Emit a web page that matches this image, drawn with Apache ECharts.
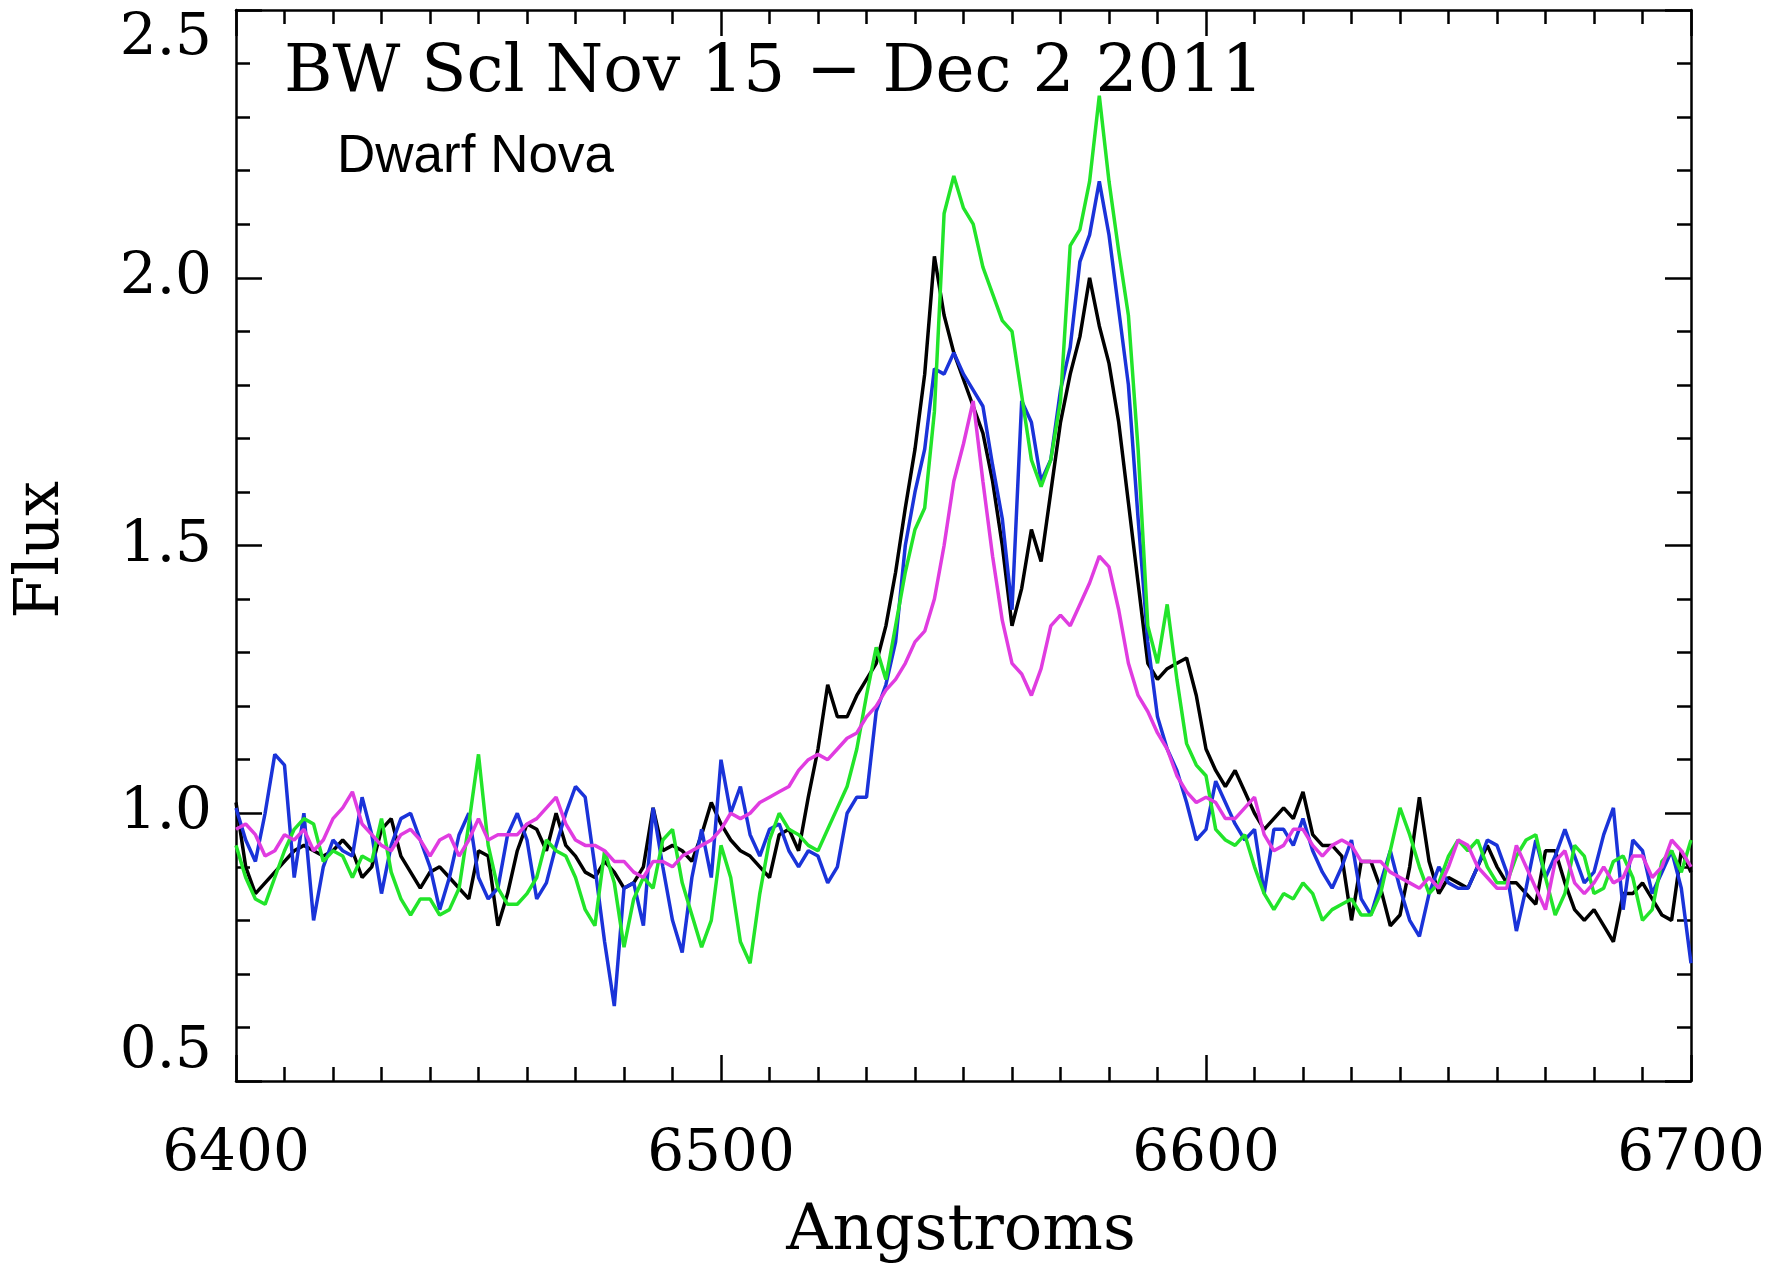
<!DOCTYPE html>
<html><head><meta charset="utf-8">
<script src="https://cdn.jsdelivr.net/npm/echarts@6/dist/echarts.min.js"></script>
<style>html,body{margin:0;padding:0;background:#fff}#c{width:1788px;height:1269px}</style>
</head><body><div id="c"></div>
<script>
// Wavelength grid (Angstroms)
const WAVELENGTH = [
 6400,6402,6404,6406,6408,6410,6412,6414,6416,6418,
 6420,6422,6424,6426,6428,6430,6432,6434,6436,6438,
 6440,6442,6444,6446,6448,6450,6452,6454,6456,6458,
 6460,6462,6464,6466,6468,6470,6472,6474,6476,6478,
 6480,6482,6484,6486,6488,6490,6492,6494,6496,6498,
 6500,6502,6504,6506,6508,6510,6512,6514,6516,6518,
 6520,6522,6524,6526,6528,6530,6532,6534,6536,6538,
 6540,6542,6544,6546,6548,6550,6552,6554,6556,6558,
 6560,6562,6564,6566,6568,6570,6572,6574,6576,6578,
 6580,6582,6584,6586,6588,6590,6592,6594,6596,6598,
 6600,6602,6604,6606,6608,6610,6612,6614,6616,6618,
 6620,6622,6624,6626,6628,6630,6632,6634,6636,6638,
 6640,6642,6644,6646,6648,6650,6652,6654,6656,6658,
 6660,6662,6664,6666,6668,6670,6672,6674,6676,6678,
 6680,6682,6684,6686,6688,6690,6692,6694,6696,6698,
 6700
];
const FLUX_BLACK = [
 1.02,0.90,0.85,0.87,0.89,0.91,0.93,0.94,0.93,0.92,
 0.93,0.95,0.93,0.88,0.90,0.97,0.99,0.92,0.89,0.86,
 0.89,0.90,0.88,0.86,0.84,0.93,0.92,0.79,0.85,0.93,
 0.98,0.97,0.93,1.00,0.94,0.92,0.89,0.88,0.91,0.89,
 0.86,0.87,0.90,1.01,0.93,0.94,0.93,0.91,0.96,1.02,
 0.98,0.95,0.93,0.92,0.90,0.88,0.96,0.97,0.93,1.03,
 1.12,1.24,1.18,1.18,1.22,1.25,1.28,1.35,1.45,1.57,
 1.68,1.82,2.04,1.93,1.86,1.81,1.76,1.71,1.62,1.50,
 1.35,1.42,1.53,1.47,1.60,1.73,1.82,1.89,2.00,1.91,
 1.84,1.73,1.58,1.43,1.28,1.25,1.27,1.28,1.29,1.22,
 1.12,1.08,1.05,1.08,1.04,1.00,0.97,0.99,1.01,0.99,
 1.04,0.96,0.94,0.94,0.92,0.80,0.91,0.91,0.86,0.79,
 0.81,0.90,1.03,0.91,0.85,0.88,0.87,0.86,0.90,0.94,
 0.90,0.87,0.87,0.85,0.83,0.93,0.93,0.87,0.82,0.80,
 0.82,0.79,0.76,0.85,0.85,0.87,0.84,0.81,0.80,0.93,
 0.89
];
const FLUX_BLUE = [
 1.01,0.95,0.91,1.00,1.11,1.09,0.88,1.00,0.80,0.90,
 0.95,0.93,0.92,1.03,0.96,0.85,0.94,0.99,1.00,0.95,
 0.90,0.82,0.88,0.96,1.00,0.88,0.84,0.86,0.96,1.00,
 0.95,0.84,0.87,0.94,1.00,1.05,1.03,0.90,0.76,0.64,
 0.86,0.87,0.79,1.01,0.90,0.80,0.74,0.88,0.97,0.88,
 1.10,1.00,1.05,0.96,0.92,0.97,0.98,0.93,0.90,0.93,
 0.92,0.87,0.90,1.00,1.03,1.03,1.19,1.24,1.32,1.50,
 1.60,1.68,1.83,1.82,1.86,1.82,1.79,1.76,1.65,1.55,
 1.38,1.77,1.73,1.62,1.66,1.79,1.87,2.03,2.08,2.18,
 2.08,1.94,1.80,1.55,1.32,1.18,1.12,1.08,1.02,0.95,
 0.97,1.06,1.02,0.98,0.95,0.97,0.85,0.97,0.97,0.94,
 0.99,0.93,0.89,0.86,0.90,0.95,0.84,0.81,0.87,0.93,
 0.86,0.80,0.77,0.85,0.90,0.87,0.86,0.86,0.90,0.95,
 0.94,0.89,0.78,0.86,0.95,0.88,0.92,0.97,0.92,0.87,
 0.89,0.96,1.01,0.82,0.95,0.93,0.85,0.89,0.93,0.86,
 0.72
];
const FLUX_GREEN = [
 0.94,0.88,0.84,0.83,0.88,0.93,0.97,0.99,0.98,0.91,
 0.93,0.92,0.88,0.92,0.91,0.99,0.89,0.84,0.81,0.84,
 0.84,0.81,0.82,0.86,0.98,1.11,0.94,0.86,0.83,0.83,
 0.85,0.88,0.95,0.93,0.92,0.88,0.82,0.79,0.93,0.87,
 0.75,0.84,0.88,0.86,0.95,0.97,0.87,0.81,0.75,0.80,
 0.94,0.88,0.76,0.72,0.85,0.95,1.00,0.97,0.96,0.94,
 0.93,0.97,1.01,1.05,1.12,1.22,1.31,1.25,1.35,1.45,
 1.53,1.57,1.75,2.12,2.19,2.13,2.10,2.02,1.97,1.92,
 1.90,1.78,1.66,1.61,1.66,1.77,2.06,2.09,2.18,2.34,
 2.18,2.05,1.93,1.68,1.35,1.28,1.39,1.25,1.13,1.09,
 1.07,0.97,0.95,0.94,0.96,0.90,0.85,0.82,0.85,0.84,
 0.87,0.85,0.80,0.82,0.83,0.84,0.81,0.81,0.85,0.93,
 1.01,0.96,0.90,0.85,0.87,0.92,0.95,0.93,0.95,0.90,
 0.87,0.87,0.92,0.95,0.96,0.88,0.81,0.85,0.94,0.92,
 0.85,0.86,0.91,0.92,0.88,0.80,0.82,0.91,0.93,0.89,
 0.95
];
const FLUX_MAGENTA = [
 0.97,0.98,0.96,0.92,0.93,0.96,0.95,0.97,0.93,0.95,
 0.99,1.01,1.04,0.98,0.96,0.94,0.93,0.96,0.97,0.95,
 0.92,0.95,0.96,0.92,0.95,0.99,0.95,0.96,0.96,0.96,
 0.98,0.99,1.01,1.03,0.98,0.95,0.94,0.94,0.93,0.91,
 0.91,0.89,0.88,0.91,0.91,0.90,0.92,0.93,0.94,0.95,
 0.97,1.00,0.99,1.00,1.02,1.03,1.04,1.05,1.08,1.10,
 1.11,1.10,1.12,1.14,1.15,1.18,1.20,1.23,1.25,1.28,
 1.32,1.34,1.40,1.50,1.62,1.69,1.77,1.62,1.48,1.36,
 1.28,1.26,1.22,1.27,1.35,1.37,1.35,1.39,1.43,1.48,
 1.46,1.38,1.28,1.22,1.19,1.15,1.12,1.07,1.04,1.02,
 1.03,1.02,0.99,0.99,1.01,1.03,0.96,0.93,0.94,0.97,
 0.97,0.94,0.92,0.94,0.95,0.94,0.91,0.91,0.91,0.89,
 0.88,0.87,0.86,0.88,0.86,0.90,0.95,0.94,0.90,0.88,
 0.86,0.86,0.94,0.90,0.86,0.82,0.91,0.93,0.87,0.85,
 0.87,0.90,0.87,0.88,0.92,0.92,0.88,0.90,0.95,0.93,
 0.90
];
const X_RANGE = [6400, 6700];
const Y_RANGE = [0.5, 2.5];
const TITLE_TEXT = 'BW Scl Nov 15 \u2212 Dec 2 2011';
const SUBTITLE_TEXT = 'Dwarf Nova';
const X_NAME = 'Angstroms';
const Y_NAME = 'Flux';

const SERIES_DEF = [
  {name: 'black', data: FLUX_BLACK, color: '#000000'},
  {name: 'blue', data: FLUX_BLUE, color: '#1a33d9'},
  {name: 'green', data: FLUX_GREEN, color: '#22e42a'},
  {name: 'magenta', data: FLUX_MAGENTA, color: '#e03ce0'}
];

const chart = echarts.init(document.getElementById('c'), null, {renderer: 'canvas'});
const axisLineStyle = {color: '#000', width: 2.5};
const serif = 'DejaVu Serif';
function xAxisDef(pos, showLabel) {
  return {
    type: 'value', position: pos, min: X_RANGE[0], max: X_RANGE[1], interval: 100,
    axisLine: {show: true, onZero: false, lineStyle: axisLineStyle},
    axisTick: {show: true, inside: true, length: 26, lineStyle: axisLineStyle},
    minorTick: {show: true, splitNumber: 10, length: 14, lineStyle: axisLineStyle},
    splitLine: {show: false}, minorSplitLine: {show: false},
    axisLabel: {show: showLabel, fontFamily: serif, fontSize: 58, color: '#000', margin: 45,
      formatter: v => String(Math.round(v))}
  };
}
function yAxisDef(pos, showLabel) {
  return {
    type: 'value', position: pos, min: Y_RANGE[0], max: Y_RANGE[1], interval: 0.5,
    axisLine: {show: true, onZero: false, lineStyle: axisLineStyle},
    axisTick: {show: true, inside: true, length: 26, lineStyle: axisLineStyle},
    minorTick: {show: true, splitNumber: 5, length: 14, lineStyle: axisLineStyle},
    splitLine: {show: false}, minorSplitLine: {show: false},
    axisLabel: {show: showLabel, fontFamily: serif, fontSize: 58, color: '#000', margin: 24,
      verticalAlignMinLabel: 'bottom', verticalAlignMaxLabel: 'top',
      formatter: v => v.toFixed(1)}
  };
}

chart.setOption({
  animation: false,
  backgroundColor: '#ffffff',
  grid: {left: 236, right: 97, top: 10, bottom: 188, containLabel: false},
  xAxis: [xAxisDef('bottom', true), xAxisDef('top', false)],
  yAxis: [yAxisDef('left', true), yAxisDef('right', false)],
  title: [
    {text: TITLE_TEXT, left: 279, top: 36,
     textStyle: {fontFamily: serif, fontSize: 66, fontWeight: 'normal', color: '#000'}},
    {text: SUBTITLE_TEXT, left: 332, top: 126,
     textStyle: {fontFamily: 'Liberation Sans', fontSize: 53, fontWeight: 'normal', color: '#000'}}
  ],
  graphic: [
    {type: 'text', x: 961, y: 1232, style: {text: X_NAME, fontFamily: serif, fontSize: 64,
      fill: '#000', textAlign: 'center', textVerticalAlign: 'middle'}},
    {type: 'text', x: 42, y: 550, rotation: Math.PI / 2, style: {text: Y_NAME, fontFamily: serif,
      fontSize: 62, fill: '#000', textAlign: 'center', textVerticalAlign: 'middle'}}
  ],
  series: SERIES_DEF.map(s => ({
    name: s.name, type: 'line', showSymbol: false, symbol: 'none',
    xAxisIndex: 0, yAxisIndex: 0,
    data: WAVELENGTH.map((w, i) => [w, s.data[i]]),
    lineStyle: {color: s.color, width: 3.5}, itemStyle: {color: s.color},
    clip: true
  }))
});
</script>
</body></html>
